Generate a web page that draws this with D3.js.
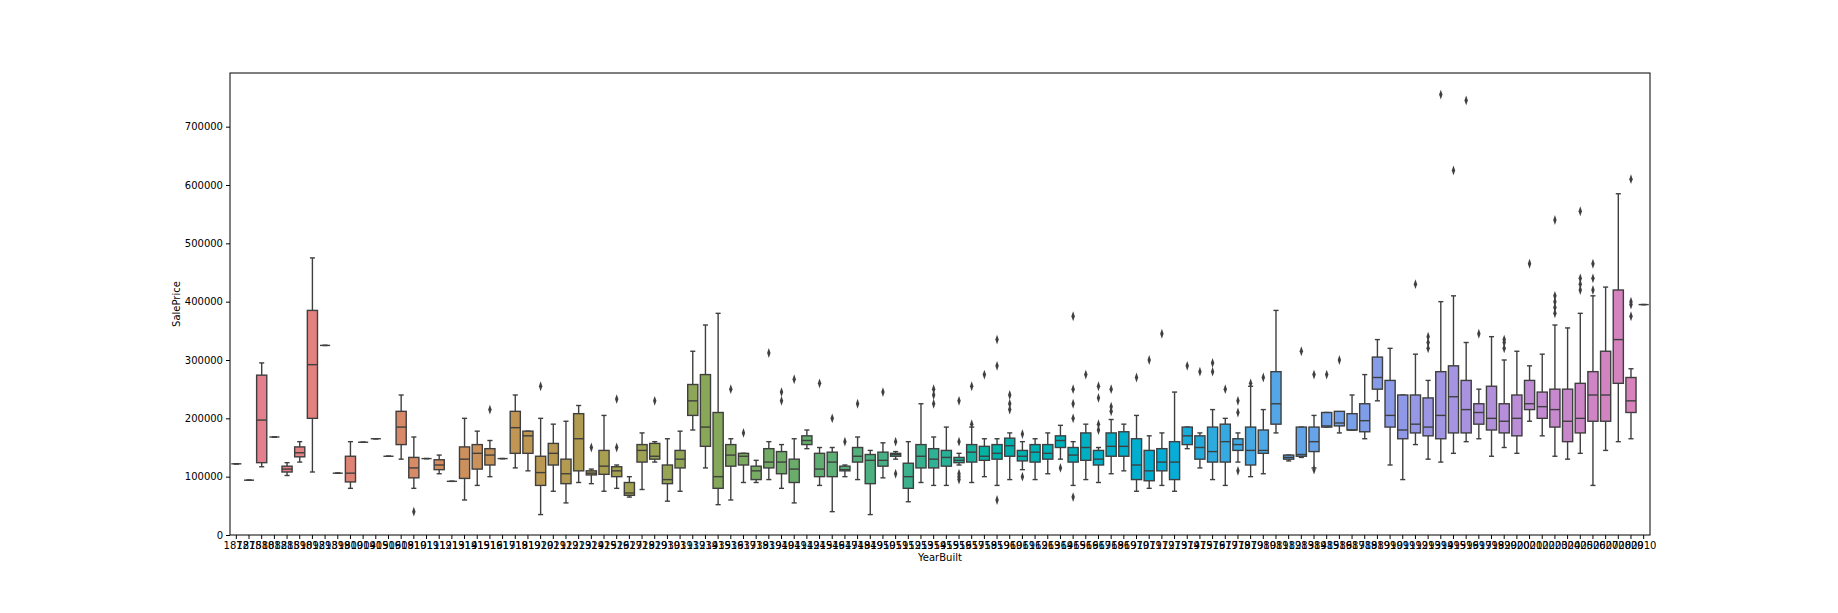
<!DOCTYPE html>
<html><head><meta charset="utf-8">
<script src="https://cdn.jsdelivr.net/npm/d3@7"></script>
<style>body{margin:0;background:#fff}text{font-family:"DejaVu Sans",sans-serif}</style>
</head><body><div id="chart"></div>
<script>
// values in thousands of dollars
var years = [1872,1875,1880,1882,1885,1890,1892,1893,1898,1900,1904,1905,1906,1908,
  1910,1911,1912,1913,1914,1915,1916,1917,1918,1919,1920,1921,1922,1923,1924,1925,1926,1927,1928,1929,1930,1931,1932,
  1934,1935,1936,1937,1938,1939,1940,1941,1942,1945,1946,1947,1948,1949,1950,1951,1952,1953,1954,1955,1956,1957,1958,1959,
  1960,1961,1962,1963,1964,1965,1966,1967,1968,1969,1970,1971,1972,1973,1974,1975,1976,1977,1978,1979,1980,1981,1982,1983,
  1984,1985,1986,1987,1988,1989,1990,1991,1992,1993,1994,1995,1996,1997,1998,1999,2000,2001,2002,2003,2004,2005,2006,2007,2008,2009,2010]
var whiskLow = [122,94,117,168,102,125,108,325,106,80,159,165,135,130,80,131,105,92,60,85,100,131,115,110,35,75,55,90,88,75,80,65,78,125,58,75,180,
  115,52,60,90,90,95,80,55,148,85,40,100,95,35,98,130,57,90,85,85,120,90,100,85,
  95,112,95,105,130,85,95,90,105,110,75,80,85,75,148,115,95,85,125,100,105,175,127,133,
  115,185,175,180,165,230,120,95,155,130,125,140,160,165,135,150,140,195,170,135,130,140,85,145,160,165,395]
var q1 = [122,94,124,168,108,134,200,325,106,91,159,165,135,155,98,131,112,92,97,113,120,131,140,140,85,120,88,110,103,104,100,68,125,130,88,115,205,
  152,80,118,120,95,115,105,90,155,100,100,110,125,88,118,135,80,115,115,118,124,125,128,130,
  135,127,125,130,150,125,128,120,135,135,95,93,110,95,155,130,125,125,145,120,140,190,130,135,
  143,185,187,180,177,250,185,165,175,170,165,175,175,190,180,175,170,215,200,185,160,175,195,195,260,210,395]
var median = [122,94,197,168,113,141,292,325,106,106,159,165,135,185,115,131,120,92,130,140,137,131,184,170,107,140,105,165,106,118,110,72,145,135,95,130,230,
  185,100,137,135,110,125,125,113,162,113,125,112,135,128,128,138,100,135,130,133,128,142,135,140,
  153,135,142,140,162,137,150,130,152,152,120,110,125,125,170,150,143,160,155,145,145,225,133,138,
  160,187,192,180,196,270,205,180,190,185,205,237,215,210,200,195,200,225,220,215,195,200,240,240,335,230,395]
var q3 = [122,94,274,168,118,151,385,325,106,135,159,165,135,212,133,131,129,92,151,155,148,131,212,178,135,157,130,208,110,145,117,90,155,157,120,145,258,
  275,210,155,140,118,148,143,130,170,140,142,118,150,138,142,140,123,155,148,145,133,155,152,155,
  166,145,155,155,170,150,175,145,175,177,165,145,148,160,185,170,185,190,165,185,180,280,137,185,
  185,210,212,208,225,305,265,240,240,235,280,290,265,225,255,225,240,265,245,250,250,260,280,315,420,270,395]
var whiskHigh = [122,94,295,168,124,160,475,325,106,160,159,165,135,240,168,131,137,92,200,178,162,131,240,178,200,190,195,222,113,205,120,100,175,160,165,178,315,
  360,380,165,140,128,160,155,165,180,150,150,120,168,145,158,143,160,225,168,185,140,185,165,165,
  175,160,165,175,188,160,190,150,198,190,205,170,175,245,185,175,215,200,175,255,215,385,137,185,
  205,210,210,240,275,335,320,240,310,265,400,410,330,250,340,300,315,290,310,360,355,380,410,425,585,285,395]
var outliers = {1910:[40],1916:[215],1920:[255],1924:[150],1926:[233,150],1929:[230],1936:[250],1937:[175],1939:[312],
  1940:[230,245],1941:[267],1945:[260],1946:[200],1947:[160],1948:[225],1950:[245],1951:[105,160],
  1954:[250,240,225],1956:[95,100,105,230,160],1957:[255,190],1958:[275],1959:[60,290,335],1960:[215,225,240],
  1961:[173,100],1964:[115],1965:[375,200,225,250,65],1966:[275],1967:[190,180,235,255],1968:[212,220,250],
  1970:[270],1971:[300],1972:[345],1974:[290],1975:[280],1976:[295,280],1977:[250],1978:[110,230,210],1979:[260],1980:[270],
  1983:[315],1984:[112,275],1985:[275],1986:[300],1992:[430],1993:[340,330,320],1994:[755],1995:[625],1996:[745],1997:[345],
  1999:[335,330,320],2001:[465],2003:[540,410,390,380,400],2005:[555,440,420,430],2006:[465,440,420],2009:[610,400,395,375]}
var yTicks = [0,100000,200000,300000,400000,500000,600000,700000]

var W = 1838, H = 613
var svg = d3.select('#chart').append('svg').attr('width',W).attr('height',H)
var margin = {top:73, right:188, bottom:78, left:230}
var x = d3.scaleBand().domain(years).range([margin.left, W - margin.right]).paddingInner(0.2).paddingOuter(0.1)
var y = d3.scaleLinear().domain([0,792000]).range([H - margin.bottom, margin.top])
var hue = d3.scaleLinear().domain([0, years.length]).range([8, 345])
var ink = '#3f3f3f'

years.forEach(function(yr, i){
  var x0 = x(yr), w = x.bandwidth(), cx = x0 + w/2
  var fill = d3.hcl(hue(i), 42, 65)
  var g = svg.append('g')
  var line = function(x1,x2,v1,v2){
    g.append('line').attr('x1',x1).attr('x2',x2).attr('y1',y(v1*1000)).attr('y2',y(v2*1000)).attr('stroke',ink).attr('stroke-width',1.4)
  }
  line(cx,cx,whiskLow[i],q1[i])
  line(cx,cx,whiskHigh[i],q3[i])
  line(cx-w/4,cx+w/4,whiskLow[i],whiskLow[i])
  line(cx-w/4,cx+w/4,whiskHigh[i],whiskHigh[i])
  g.append('rect').attr('x',x0).attr('width',w).attr('y',y(q3[i]*1000)).attr('height',Math.max(0,y(q1[i]*1000)-y(q3[i]*1000)))
    .attr('fill',fill).attr('stroke',ink).attr('stroke-width',1.4)
  line(x0,x0+w,median[i],median[i])
  ;(outliers[yr]||[]).forEach(function(v){
    g.append('path').attr('d',d3.symbol(d3.symbolDiamond, 18)())
      .attr('transform','translate('+cx+','+y(v*1000)+') scale(0.75,1.25)').attr('fill',ink)
  })
})

svg.append('g').attr('transform','translate(0,'+(H-margin.bottom)+')')
  .call(d3.axisBottom(x).tickSizeOuter(0).tickSize(4))
  .call(function(g){ g.select('.domain').remove(); g.selectAll('text').attr('font-size',10).attr('fill','#000') })
svg.append('g').attr('transform','translate('+margin.left+',0)')
  .call(d3.axisLeft(y).tickValues(yTicks).tickFormat(d3.format('d')).tickSize(4))
  .call(function(g){ g.select('.domain').remove(); g.selectAll('text').attr('font-size',10).attr('fill','#000') })
svg.append('rect').attr('x',margin.left).attr('y',margin.top).attr('width',W-margin.right-margin.left)
  .attr('height',H-margin.bottom-margin.top).attr('fill','none').attr('stroke','#000').attr('stroke-width',1)
svg.append('text').attr('x',(margin.left+W-margin.right)/2).attr('y',561).attr('text-anchor','middle').attr('font-size',10).text('YearBuilt')
svg.append('text').attr('transform','translate(180,'+((margin.top+H-margin.bottom)/2)+') rotate(-90)').attr('text-anchor','middle').attr('font-size',10).text('SalePrice')
</script></body></html>
